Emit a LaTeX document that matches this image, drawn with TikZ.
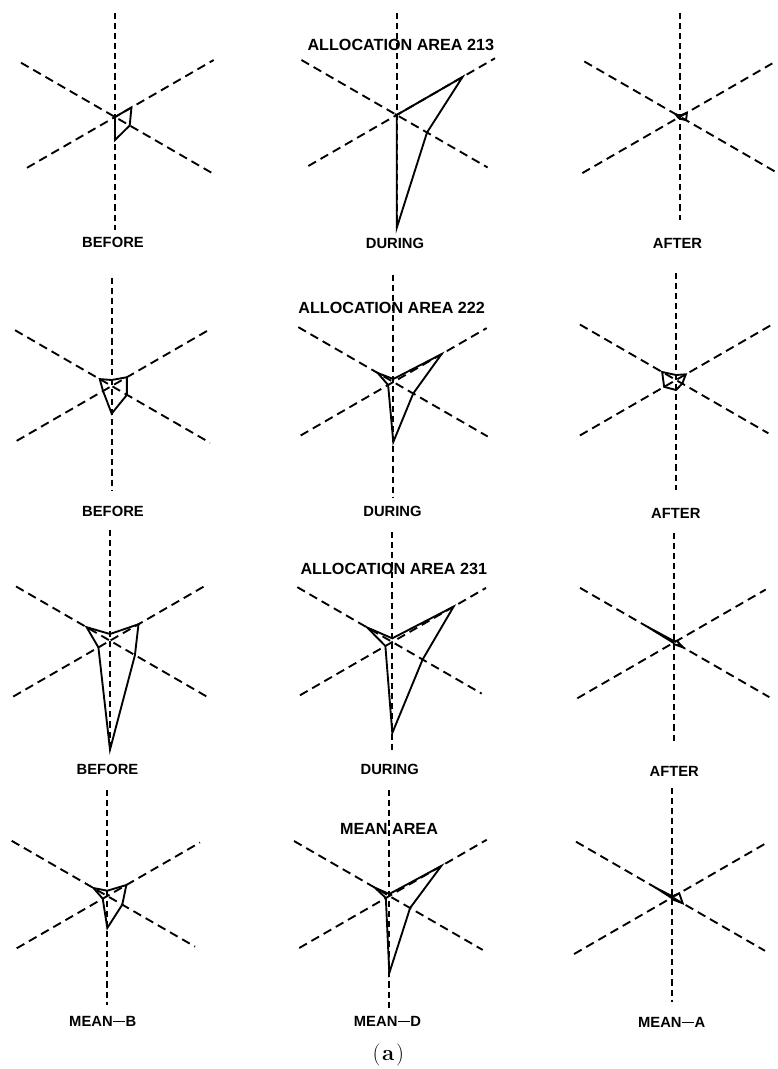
\documentclass[tikz,border=0pt]{standalone}
\usepackage{fontspec}
\newfontfamily\labfont{Liberation Sans}
\usetikzlibrary{calc}
\newcommand{\axes}[9]{%
  \coordinate (#1) at (#2,#3);
  \draw[vaxis] (#2,#4) -- (#2,#5);
  \draw[daxis] ($(#1)+(-150:#6)$) -- ($(#1)+(30:#9)$);
  \draw[daxis] ($(#1)+(150:#8)$) -- ($(#1)+(-30:#7)$);
}
% args: centre, up, upper-right, lower-right, down, lower-left, upper-left
\newcommand{\poly}[7]{%
  \draw[polyline] ($(#1)+(-90:#2)$) -- ($(#1)+(-30:#3)$) -- ($(#1)+(30:#4)$)
    -- ($(#1)+(90:#5)$) -- ($(#1)+(150:#6)$) -- ($(#1)+(-150:#7)$) -- cycle;
}
\newcommand{\md}{\kern0.5pt\rule[0.3em]{0.8em}{0.09em}\kern0.5pt}
\begin{document}
\begin{tikzpicture}[x=0.03cm,y=-0.03cm,
  vaxis/.style={line width=1.6pt, dash pattern=on 5.2pt off 3.4pt},
  daxis/.style={line width=1.6pt, dash pattern=on 7.5pt off 4.5pt},
  polyline/.style={line width=1.6pt, line join=miter},
  lab/.style={font=\labfont\bfseries\fontsize{12.6}{14}\selectfont, inner sep=0pt},
  ttl/.style={font=\labfont\bfseries\fontsize{13.8}{16}\selectfont, inner sep=0pt}]
\useasboundingbox[fill=white] (0,0) rectangle (777,1069);

% row 1
\axes{c11}{115}{117}{13}{230}{108.5}{114}{101.6}{113}
\poly{c11}{0}{19}{17}{23}{0}{2}
\axes{c12}{396.7}{115}{13}{226}{110}{113.5}{102}{105}
\poly{c12}{0}{76}{35}{113}{0}{2}
\axes{c13}{680}{116.7}{13}{220}{110.5}{106.6}{112.8}{111.7}
\poly{c13}{1}{8}{7}{2}{2}{5}
\node[ttl] (t1) at (400.8,45) {ALLOCATION AREA 213};
\node[lab] (l11) at (113,242) {BEFORE};
\node[lab] (l12) at (395,243.3) {DURING};
\node[lab] (l13) at (677.5,243) {AFTER};

% row 2
\axes{c21}{111.7}{386}{278}{490}{111.6}{111.5}{109.7}{113.5}
\poly{c21}{6}{17.5}{17.6}{27.6}{10}{13.8}
\axes{c22}{393.3}{382}{275}{497}{109.7}{107.8}{107}{109}
\poly{c22}{3}{55.7}{23}{60}{6}{18}
\axes{c23}{676}{380}{273}{490}{110.9}{109.4}{110.9}{106.6}
\poly{c23}{5}{11.4}{7.2}{10}{13.7}{16}
\node[ttl] (t2) at (391.7,308.3) {ALLOCATION AREA 222};
\node[lab] (l21) at (113,511.7) {BEFORE};
\node[lab] (l22) at (392.5,511.7) {DURING};
\node[lab] (l23) at (675.8,513.3) {AFTER};

% row 3
\axes{c31}{110}{640.7}{530}{750}{108.5}{110.5}{111.7}{112.4}
\poly{c31}{6.7}{32.9}{28.8}{109}{13.4}{27}
\axes{c32}{392.3}{642}{532}{750}{109.7}{108.2}{106.6}{103.2}
\poly{c32}{3.7}{70.8}{35}{91}{8}{29}
\axes{c33}{674.3}{642.3}{533}{743}{108.9}{105.5}{112}{109.7}
\poly{c33}{1}{3}{10}{2}{1}{31}
\node[ttl] (t3) at (393.8,569.3) {ALLOCATION AREA 231};
\node[lab] (l31) at (107.5,769.3) {BEFORE};
\node[lab] (l32) at (389.7,769.3) {DURING};
\node[lab] (l33) at (674.2,771.7) {AFTER};

% row 4
\axes{c41}{107.3}{896}{790}{1005}{110.4}{107}{104.6}{101.3}
\poly{c41}{5.3}{22}{17.3}{32}{5.3}{16}
\axes{c42}{389.3}{896}{790}{1010}{110}{112.5}{104}{107.8}
\poly{c42}{2}{60}{24}{77}{4}{16.8}
\axes{c43}{672.3}{897.3}{788}{1002}{111.2}{109}{113.5}{107}
\poly{c43}{1}{8}{12}{2}{1}{19}
\node[ttl] (t4) at (389,829.3) {MEAN AREA};
\node[lab] (l41) at (102.8,1021.7) {MEAN\md B};
\node[lab] (l42) at (387.5,1021.7) {MEAN\md D};
\node[lab] (l43) at (671.7,1022.7) {MEAN\md A};
\node[font=\fontsize{19}{21}\selectfont, inner sep=0pt] (cap) at (388.3,1055) {(\kern1.5pt\textbf{a}\kern1.5pt)};
\end{tikzpicture}
\end{document}
